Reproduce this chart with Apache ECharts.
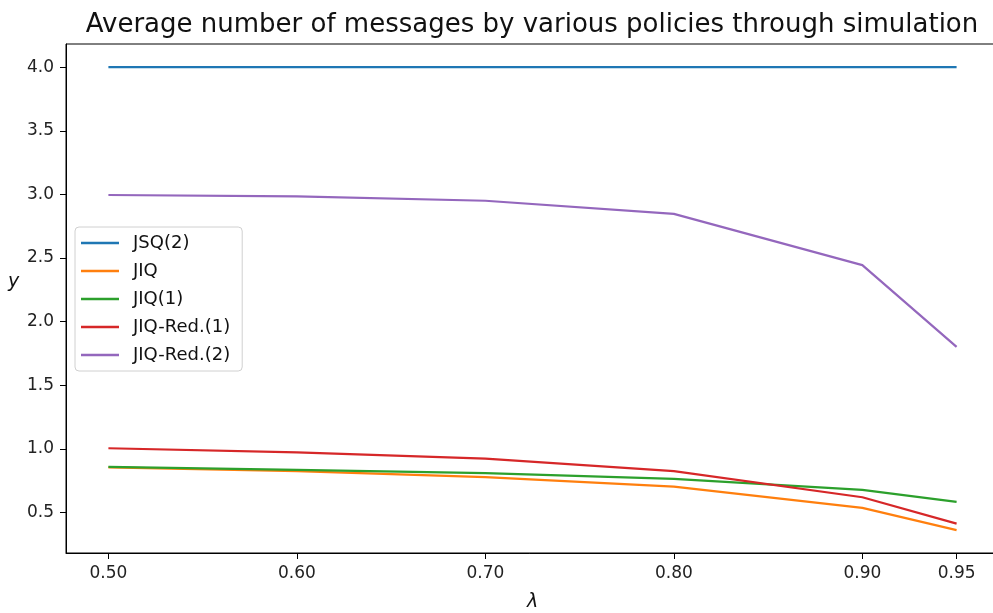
<!DOCTYPE html>
<html>
<head>
<meta charset="utf-8">
<script src="https://cdn.jsdelivr.net/npm/echarts@6/dist/echarts.min.js"></script>
<style>html,body{margin:0;padding:0;background:#fff}#c{width:993px;height:613px}</style>
</head>
<body>
<div id="c"></div>
<script>
const lambdas = [0.50, 0.60, 0.70, 0.80, 0.90, 0.95];
const xTickValues = [0.50, 0.60, 0.70, 0.80, 0.90, 0.95];
const yTickValues = [0.5, 1.0, 1.5, 2.0, 2.5, 3.0, 3.5, 4.0];
const seriesNames = ['JSQ(2)', 'JIQ', 'JIQ(1)', 'JIQ-Red.(1)', 'JIQ-Red.(2)'];
const jsq2 = [4.0, 4.0, 4.0, 4.0, 4.0, 4.0];
const jiq = [0.855, 0.825, 0.778, 0.704, 0.536, 0.362];
const jiq1 = [0.858, 0.835, 0.809, 0.764, 0.678, 0.583];
const jiqRed1 = [1.005, 0.972, 0.924, 0.825, 0.620, 0.413];
const jiqRed2 = [2.995, 2.985, 2.950, 2.847, 2.444, 1.802];
const colors = ['#1f77b4', '#ff7f0e', '#2ca02c', '#d62728', '#9467bd'];

const allValues = [jsq2, jiq, jiq1, jiqRed1, jiqRed2];
const fontFam = 'DejaVu Sans';
const chart = echarts.init(document.getElementById('c'), null, {renderer: 'canvas'});
chart.setOption({
  animation: false,
  backgroundColor: '#fff',
  title: {
    text: 'Average number of messages by various policies through simulation',
    left: 527, top: 7, textAlign: 'center',
    textStyle: {fontFamily: fontFam, fontSize: 26, fontWeight: 'normal', color: '#111'}
  },
  legend: {
    orient: 'vertical', left: 75, top: 227,
    data: seriesNames,
    icon: 'rect', itemWidth: 38, itemHeight: 2.5, itemGap: 10,
    backgroundColor: '#fff', borderColor: '#d0d0d0', borderWidth: 1, borderRadius: 4,
    padding: [7, 12, 7, 6],
    textStyle: {fontFamily: fontFam, fontSize: 18, color: '#111', padding: [0, 0, 0, 9], lineHeight: 18}
  },
  graphic: [{
    type: 'text', left: 8, top: 273,
    style: {text: 'y', fontFamily: fontFam, fontSize: 19, fontStyle: 'italic', fill: '#111'}
  }],
  grid: {left: 66, top: 44, width: 933, height: 509, outerBoundsMode: 'none', containLabel: false,
    show: true, borderColor: '#000', borderWidth: 1, backgroundColor: 'transparent'},
  xAxis: {
    type: 'value', min: 0.4775, max: 0.9725,
    name: 'λ', nameLocation: 'middle', nameGap: 40,
    nameTextStyle: {fontFamily: fontFam, fontSize: 19, fontStyle: 'italic', color: '#111'},
    axisLine: {show: true, lineStyle: {color: '#000', width: 1}},
    axisTick: {show: true, length: 6, customValues: xTickValues, lineStyle: {color: '#000'}},
    axisLabel: {customValues: xTickValues, margin: 12, fontFamily: fontFam, fontSize: 17, color: '#222',
      formatter: v => v.toFixed(2)},
    splitLine: {show: false}
  },
  yAxis: {
    type: 'value', min: 0.1818, max: 4.1818,
    axisLine: {show: true, lineStyle: {color: '#000', width: 1}},
    axisTick: {show: true, length: 6, customValues: yTickValues, lineStyle: {color: '#000'}},
    axisLabel: {customValues: yTickValues, margin: 12, fontFamily: fontFam, fontSize: 17, color: '#222',
      formatter: v => v.toFixed(1)},
    splitLine: {show: false}
  },
  series: seriesNames.map((n, i) => ({
    name: n, type: 'line', symbol: 'none',
    data: lambdas.map((x, j) => [x, allValues[i][j]]),
    lineStyle: {color: colors[i], width: 2.2},
    itemStyle: {color: colors[i]}
  }))
});
</script>
</body>
</html>
